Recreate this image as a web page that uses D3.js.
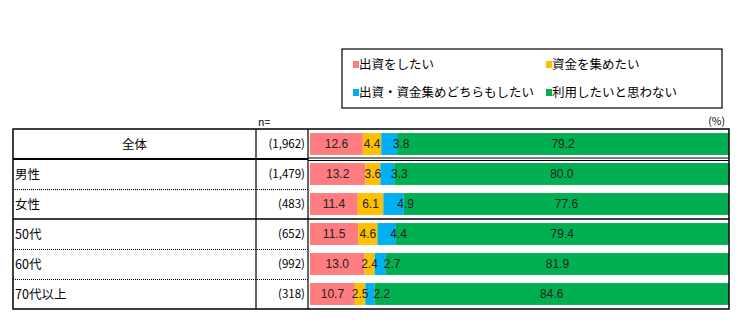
<!DOCTYPE html>
<html><head><meta charset="utf-8">
<script src="https://cdn.jsdelivr.net/npm/d3@7"></script>
<style>
body{margin:0;background:#fff;}
svg{display:block;}
</style></head>
<body>
<svg id="c" width="745" height="324"></svg>
<script>
const categories = ["全体","男性","女性","50代","60代","70代以上"];
const nLabels = ["(1,962)","(1,479)","(483)","(652)","(992)","(318)"];
const seriesNames = ["出資をしたい","資金を集めたい","出資・資金集めどちらもしたい","利用したいと思わない"];
const colors = ["#FF7C80","#FFC000","#00B0F0","#00B050"];
const invest = [12.6,13.2,11.4,11.5,13.0,10.7];
const raise = [4.4,3.6,6.1,4.6,2.4,2.5];
const both = [3.8,3.3,4.9,4.4,2.7,2.2];
const neither = [79.2,80.0,77.6,79.4,81.9,84.6];
const seriesValues = [invest, raise, both, neither];

const svg = d3.select("#c");
const jp = "'Noto Sans CJK JP', sans-serif";
const num = "'Liberation Sans', Arial, sans-serif";

const L = 13, C1 = 256, C2 = 308, R = 729, T = 129, B = 309;
const x = d3.scaleLinear().domain([0,100]).range([C2+2, R]);
const rows = d3.scaleBand().domain(categories).range([T, B]);
const bars = d3.scaleBand().domain(categories).range([T, B]).paddingInner(0.27).paddingOuter(0.135);

const data = categories.map((c,i)=>{
  let acc = 0;
  return seriesValues.map((s,k)=>{ const d={cat:c,k,v:s[i],x0:acc,x1:acc+s[i]}; acc+=s[i]; return d;});
});

// bars
const g = svg.append("g");
data.forEach(row=>{
  g.selectAll(null).data(row).enter().append("rect")
   .attr("x", d=>x(d.x0)).attr("width", d=>x(d.x1)-x(d.x0))
   .attr("y", d=>bars(d.cat)).attr("height", bars.bandwidth())
   .attr("fill", d=>colors[d.k]);
  g.selectAll(null).data(row).enter().append("text")
   .attr("x", d=>(x(d.x0)+x(d.x1))/2 + (d.k===2?12:0))
   .attr("y", d=>bars(d.cat)+bars.bandwidth()/2)
   .attr("dy","0.36em").attr("text-anchor","middle")
   .attr("font-family", num).attr("font-size", 12).attr("fill","#222")
   .text(d=>d.v.toFixed(1));
});

// table lines
const lines = svg.append("g").attr("stroke","#000").attr("fill","none");
lines.append("rect").attr("x",L).attr("y",T).attr("width",R-L).attr("height",B-T).attr("stroke-width",1.5);
[C1, C2].forEach(cx=>lines.append("line").attr("x1",cx).attr("x2",cx).attr("y1",T).attr("y2",B).attr("stroke-width",1.2));
// header separator
lines.append("line").attr("x1",L).attr("x2",C2).attr("y1",rows("男性")).attr("y2",rows("男性")).attr("stroke-width",2);
lines.append("line").attr("x1",C2).attr("x2",R).attr("y1",rows("男性")-1).attr("y2",rows("男性")-1).attr("stroke-width",1);
lines.append("line").attr("x1",C2).attr("x2",R).attr("y1",rows("男性")+1.5).attr("y2",rows("男性")+1.5).attr("stroke-width",1);
// solid group separator
lines.append("line").attr("x1",L).attr("x2",R).attr("y1",rows("50代")).attr("y2",rows("50代")).attr("stroke-width",1.5);
// dotted separators
["女性","60代","70代以上"].forEach(c=>{
  lines.append("line").attr("x1",L).attr("x2",C2).attr("y1",rows(c)+0.5).attr("y2",rows(c)+0.5)
   .attr("stroke-width",1).attr("stroke-dasharray","1,1");
});

// row labels
svg.append("g").selectAll("text").data(categories).enter().append("text")
  .attr("x",(d,i)=> i===0 ? (L+C1)/2 : L+2)
  .attr("text-anchor",(d,i)=> i===0 ? "middle" : "start")
  .attr("y", d=>rows(d)+rows.bandwidth()/2).attr("dy","0.36em")
  .attr("font-family", jp).attr("font-size", 12.5).attr("fill","#000")
  .text(d=>d);
svg.append("g").selectAll("text").data(nLabels).enter().append("text")
  .attr("x", C2-3).attr("text-anchor","end")
  .attr("y",(d,i)=>rows(categories[i])+rows.bandwidth()/2).attr("dy","0.36em")
  .attr("font-family", jp).attr("font-size", 11.5).attr("fill","#000")
  .text(d=>d);
svg.append("text").attr("x",258).attr("y",126).attr("font-family",jp).attr("font-size",10.5).text("n=");
svg.append("text").attr("x",725).attr("y",125).attr("text-anchor","end").attr("font-family",jp).attr("font-size",10.5).text("(%)");

// legend
svg.append("rect").attr("x",342).attr("y",49).attr("width",380).attr("height",59).attr("fill","none").attr("stroke","#000").attr("stroke-width",1.2);
const legPos = [[353,64],[546,64],[353,92],[546,92]];
const lg = svg.append("g").selectAll("g").data(seriesNames).enter().append("g")
  .attr("transform",(d,i)=>`translate(${legPos[i][0]},${legPos[i][1]})`);
lg.append("rect").attr("x",0).attr("y",-3).attr("width",6).attr("height",7).attr("fill",(d,i)=>colors[i]);
lg.append("text").attr("x",6).attr("y",0).attr("dy","0.36em").attr("font-family",jp).attr("font-size",12.5).text(d=>d);
</script>
</body></html>
